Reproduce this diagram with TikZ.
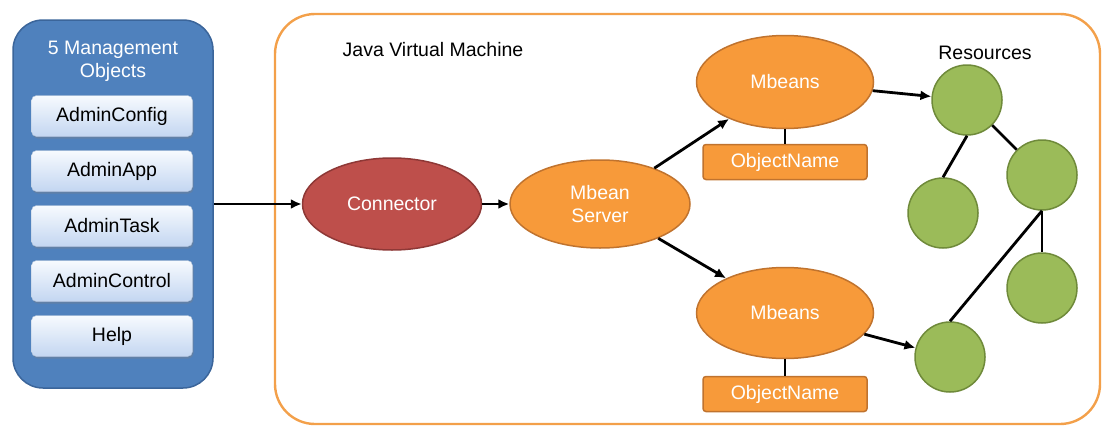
\documentclass[tikz,border=0pt]{standalone}
\usepackage{fontspec}
\setmainfont{Liberation Sans}
\usetikzlibrary{arrows.meta,shapes.geometric,shadows}
\definecolor{panelblue}{HTML}{4F81BD}
\definecolor{paneledge}{HTML}{3B659A}
\definecolor{boxtop}{HTML}{F7FAFE}
\definecolor{boxbottom}{HTML}{C3D6F1}
\definecolor{beanorange}{HTML}{F79A3A}
\definecolor{beanedge}{HTML}{C0732E}
\definecolor{connred}{HTML}{BE4F4B}
\definecolor{connedge}{HTML}{8E3836}
\definecolor{resgreen}{HTML}{9BBB59}
\definecolor{resedge}{HTML}{6F8A3A}
\definecolor{jvmorange}{HTML}{F3A04A}
\tikzset{font=\fontsize{19.5}{23}\selectfont}
\tikzset{every node/.append style={transform shape=false}}

\begin{document}
\begin{tikzpicture}[x=1pt,y=-1pt,
  panel/.style={draw=paneledge,fill=panelblue,line width=1.5pt,rounded corners=30pt,
    minimum width=200pt,minimum height=368pt,inner sep=0pt},
  admin/.style={rounded corners=5pt,top color=boxtop,bottom color=boxbottom,draw=boxbottom!80!gray,
    line width=.4pt,minimum width=161pt,minimum height=41pt,inner sep=0pt,
    drop shadow={opacity=.35,shadow xshift=1pt,shadow yshift=-2pt}},
  bean/.style={ellipse,draw=beanedge,fill=beanorange,text=white,line width=1.5pt,
    inner sep=0pt,align=center},
  oname/.style={draw=beanedge,fill=beanorange,text=white,line width=1.5pt,rounded corners=3pt,
    minimum width=164pt,minimum height=35pt,inner sep=0pt},
  res/.style={circle,draw=resedge,fill=resgreen,line width=1.5pt,minimum size=70pt,inner sep=0pt},
  link/.style={line width=2.8pt,-{Latex[length=11pt,width=10pt]}},
  tie/.style={line width=2.8pt}]
  \useasboundingbox (0,0) rectangle (1110,434);

  % management objects
  \node[panel] (mgmt) at (113,204) {};
  \node[text=white,align=center] (mgmttitle) at (113,61) {5 Management\\Objects};
  \node[admin] (config) at (112,116) {AdminConfig};
  \node[admin] (app) at (112,171) {AdminApp};
  \node[admin] (task) at (112,226) {AdminTask};
  \node[admin] (control) at (112,281) {AdminControl};
  \node[admin] (help) at (112,336) {Help};

  % jvm
  \draw[draw=jvmorange,line width=2.4pt,rounded corners=40pt] (275,14) rectangle (1100,424);
  \node (jvm) at (433,50) {Java Virtual Machine};
  \node (resources) at (985,53) {Resources};

  \node[bean,draw=connedge,fill=connred,minimum width=179pt,minimum height=92pt] (conn) at (392,204) {Connector};
  \node[bean,minimum width=180pt,minimum height=88pt] (server) at (600,204) {Mbean\\Server};
  \node[bean,minimum width=177pt,minimum height=93pt] (beanA) at (785,82) {Mbeans};
  \node[bean,minimum width=177pt,minimum height=91pt] (beanB) at (785,313) {Mbeans};
  \node[oname] (nameA) at (785,162) {ObjectName};
  \node[oname] (nameB) at (785,394) {ObjectName};

  \node[res] (r1) at (967,100) {};
  \node[res] (r2) at (943,213) {};
  \node[res] (r3) at (1042,175) {};
  \node[res] (r4) at (1042,288) {};
  \node[res] (r5) at (950,357) {};

  \draw[link] (mgmt) -- (conn);
  \draw[link] (conn) -- (server);
  \draw[link] (server) -- (beanA);
  \draw[link] (server) -- (beanB);
  \draw[link] (beanA) -- (r1);
  \draw[link] (beanB) -- (r5);
  \draw[tie] (beanA) -- (nameA);
  \draw[tie] (beanB) -- (nameB);
  \draw[tie] (r1.south) -- (r2.north);
  \draw[tie] (r1) -- (r3);
  \draw[tie] (r3) -- (r4);
  \draw[tie] (r3.south) -- (r5.north);
\end{tikzpicture}
\end{document}
